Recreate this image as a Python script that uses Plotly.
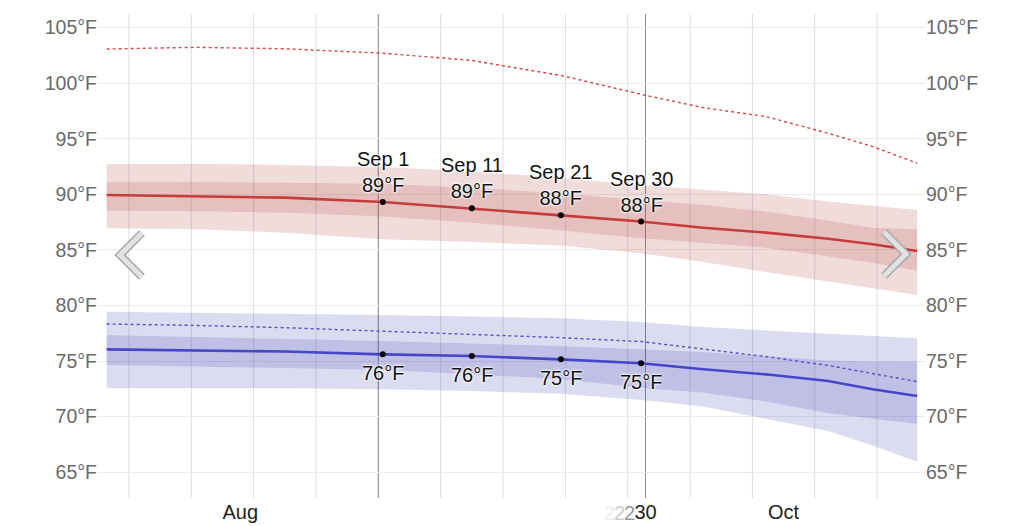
import plotly.graph_objects as go

# ---------------- data ----------------
dates = ["2024-08-01 12:00", "2024-08-11 12:00", "2024-08-21 12:00", "2024-09-01 12:00",
         "2024-09-11 12:00", "2024-09-21 12:00", "2024-09-30 12:00", "2024-10-07 12:00",
         "2024-10-14 12:00", "2024-10-21 12:00", "2024-10-26 12:00", "2024-10-31 12:00"]

hi_avg = [89.94, 89.85, 89.70, 89.31, 88.74, 88.11, 87.55, 87.00, 86.55, 86.00, 85.50, 84.90]
hi_p90 = [92.73, 92.75, 92.65, 92.45, 92.05, 91.50, 90.85, 90.45, 90.00, 89.35, 88.95, 88.60]
hi_p75 = [91.08, 91.10, 91.05, 90.95, 90.60, 90.10, 89.50, 89.05, 88.45, 87.65, 87.00, 86.85]
hi_p25 = [88.53, 88.48, 88.35, 88.00, 87.45, 86.75, 86.05, 85.65, 85.20, 84.40, 83.85, 83.13]
hi_p10 = [86.94, 86.85, 86.55, 85.95, 85.70, 85.40, 84.70, 83.90, 83.00, 82.15, 81.55, 80.94]
hi_dot = [103.08, 103.23, 103.10, 102.70, 102.05, 100.70, 99.00, 97.80, 97.00, 95.50, 94.30, 92.80]

lo_avg = [76.05, 75.95, 75.85, 75.60, 75.45, 75.15, 74.80, 74.25, 73.80, 73.20, 72.45, 71.85]
lo_p90 = [79.44, 79.35, 79.25, 79.15, 79.00, 78.85, 78.50, 78.05, 77.75, 77.45, 77.20, 77.04]
lo_p75 = [77.34, 77.20, 77.00, 76.80, 76.55, 76.35, 76.05, 75.80, 75.45, 75.05, 74.95, 74.94]
lo_p25 = [74.64, 74.50, 74.35, 74.20, 73.80, 73.35, 72.60, 72.15, 71.35, 70.30, 69.80, 69.33]
lo_p10 = [72.54, 72.55, 72.55, 72.45, 72.30, 72.05, 71.50, 70.90, 69.80, 68.70, 67.40, 65.94]
lo_dot = [78.33, 78.20, 78.00, 77.70, 77.40, 77.10, 76.75, 76.05, 75.40, 74.60, 73.85, 73.14]

label_idx = [3, 4, 5, 6]
label_names = ["Sep 1", "Sep 11", "Sep 21", "Sep 30"]
hi_labels = [89, 89, 88, 88]
lo_labels = [76, 76, 75, 75]

y_ticks = [65, 70, 75, 80, 85, 90, 95, 100, 105]
week_grid = ["2024-08-04", "2024-08-11", "2024-08-18", "2024-08-25", "2024-09-01",
             "2024-09-08", "2024-09-15", "2024-09-22", "2024-09-29", "2024-10-06",
             "2024-10-13", "2024-10-20", "2024-10-27"]
month_lines = ["2024-09-01", "2024-10-01"]
x_tick_vals = ["2024-08-16 12:00", "2024-10-01 00:00", "2024-10-16 12:00"]
x_tick_text = ["Aug", "30", "Oct"]

# ---------------- styling ----------------
FONT = "Liberation Sans, Arial, sans-serif"
RED = "#c43c3c"
BLUE = "#4646c6"
RED_OUT = "rgba(180,60,60,0.18)"
RED_IN = "rgba(180,60,60,0.33)"
BLUE_OUT = "rgba(60,60,180,0.18)"
BLUE_IN = "rgba(60,60,180,0.32)"

fig = go.Figure()


def band_group(p10, p25, p75, p90, c_out, c_in):
    fig.add_trace(go.Scatter(x=dates, y=p10, mode="lines", line=dict(width=0),
                             hoverinfo="skip", showlegend=False))
    fig.add_trace(go.Scatter(x=dates, y=p25, mode="lines", line=dict(width=0),
                             fill="tonexty", fillcolor=c_out, hoverinfo="skip", showlegend=False))
    fig.add_trace(go.Scatter(x=dates, y=p75, mode="lines", line=dict(width=0),
                             fill="tonexty", fillcolor=c_in, hoverinfo="skip", showlegend=False))
    fig.add_trace(go.Scatter(x=dates, y=p90, mode="lines", line=dict(width=0),
                             fill="tonexty", fillcolor=c_out, hoverinfo="skip", showlegend=False))


band_group(hi_p10, hi_p25, hi_p75, hi_p90, RED_OUT, RED_IN)
band_group(lo_p10, lo_p25, lo_p75, lo_p90, BLUE_OUT, BLUE_IN)

fig.add_trace(go.Scatter(x=dates, y=hi_dot, mode="lines",
                         line=dict(color="#d04848", width=1.4, dash="dot"), showlegend=False))
fig.add_trace(go.Scatter(x=dates, y=lo_dot, mode="lines",
                         line=dict(color="#5050c8", width=1.4, dash="dot"), showlegend=False))
fig.add_trace(go.Scatter(x=dates, y=hi_avg, mode="lines",
                         line=dict(color=RED, width=2.6), showlegend=False))
fig.add_trace(go.Scatter(x=dates, y=lo_avg, mode="lines",
                         line=dict(color=BLUE, width=2.6), showlegend=False))

lx = [dates[i] for i in label_idx]
fig.add_trace(go.Scatter(x=lx, y=[hi_avg[i] for i in label_idx], mode="markers",
                         marker=dict(color="black", size=6), showlegend=False))
fig.add_trace(go.Scatter(x=lx, y=[lo_avg[i] for i in label_idx], mode="markers",
                         marker=dict(color="black", size=6), showlegend=False))
# invisible trace so the right axis is drawn
fig.add_trace(go.Scatter(x=dates[:1], y=hi_avg[:1], mode="markers", yaxis="y2",
                         marker=dict(opacity=0), hoverinfo="skip", showlegend=False))

halo = "0 0 3px white, 0 0 3px white, 0 0 2px white"
annotations = []
for k, i in enumerate(label_idx):
    annotations.append(dict(x=dates[i], y=hi_avg[i], xref="x", yref="y",
                            text=f"{label_names[k]}<br>{hi_labels[k]}°F", showarrow=False,
                            yanchor="bottom", yshift=4,
                            font=dict(family=FONT, size=20, color="#111", shadow=halo)))
    annotations.append(dict(x=dates[i], y=lo_avg[i], xref="x", yref="y",
                            text=f"{lo_labels[k]}°F", showarrow=False,
                            yanchor="top", yshift=-6,
                            font=dict(family=FONT, size=20, color="#111", shadow=halo)))

# faded digits in front of the "30" date label
for dx, col in [(-10, "#999999"), (-20, "#cccccc"), (-30, "#eeeeee")]:
    annotations.append(dict(x="2024-10-01 00:00", y=0, xref="x", yref="paper",
                            text="2", showarrow=False, xanchor="center", yanchor="top",
                            xshift=dx - 6, yshift=-2,
                            font=dict(family=FONT, size=20, color=col)))

shapes = []
for d in week_grid:
    shapes.append(dict(type="line", xref="x", yref="paper", x0=d, x1=d, y0=0, y1=1,
                       line=dict(color="#dcdce0", width=1), layer="below"))
for d in month_lines:
    shapes.append(dict(type="line", xref="x", yref="paper", x0=d, x1=d, y0=0, y1=1,
                       line=dict(color="#8a8a8a", width=1), layer="below"))

# page has an 8px body margin; compensate so the plot area sits at x 98-925, y 14-498
OFF = 8
W, H = 1024, 526
L, T = 98 - OFF, 14 - OFF
R = W - (925 - OFF)
B = H - (498 - OFF)
PW, PH = W - L - R, H - T - B


def px(x, y):
    return (x - OFF - L) / PW, (H - B - (y - OFF)) / PH


def chev(pts):
    p = [px(*q) for q in pts]
    return f"M {p[0][0]},{p[0][1]} L {p[1][0]},{p[1][1]} L {p[2][0]},{p[2][1]}"


for pts in ([(142, 233), (120, 255), (142, 277)], [(884, 232), (906, 254), (884, 276)]):
    shapes.append(dict(type="path", xref="paper", yref="paper", path=chev(pts),
                       line=dict(color="#a8a8a8", width=8), layer="above"))
    shapes.append(dict(type="path", xref="paper", yref="paper", path=chev(pts),
                       line=dict(color="#e2e2e2", width=5), layer="above"))

y_range = [62.67, 106.23]
fig.update_layout(
    width=W, height=H,
    margin=dict(l=L, r=R, t=T, b=B),
    paper_bgcolor="white", plot_bgcolor="white",
    font=dict(family=FONT),
    showlegend=False,
    xaxis=dict(range=["2024-07-31 12:40", "2024-11-01 09:07"], showgrid=False,
               zeroline=False, tickmode="array", tickvals=x_tick_vals, ticktext=x_tick_text,
               ticks="", tickfont=dict(family=FONT, size=20, color="#222"), showline=False,
               automargin=False),
    yaxis=dict(range=y_range, tickmode="array", tickvals=y_ticks,
               ticktext=[f"{v}°F" for v in y_ticks], showgrid=True, gridcolor="#ebebeb",
               gridwidth=1, zeroline=False, ticks="", automargin=False,
               tickfont=dict(family=FONT, size=19.5, color="#6a6a6a"), showline=False),
    yaxis2=dict(range=y_range, overlaying="y", side="right", tickmode="array",
                tickvals=y_ticks, ticktext=[f"{v}°F" for v in y_ticks], showgrid=False,
                zeroline=False, ticks="", automargin=False,
                tickfont=dict(family=FONT, size=19.5, color="#6a6a6a"), showline=False),
    shapes=shapes,
    annotations=annotations,
)

fig.write_html("out.html")
